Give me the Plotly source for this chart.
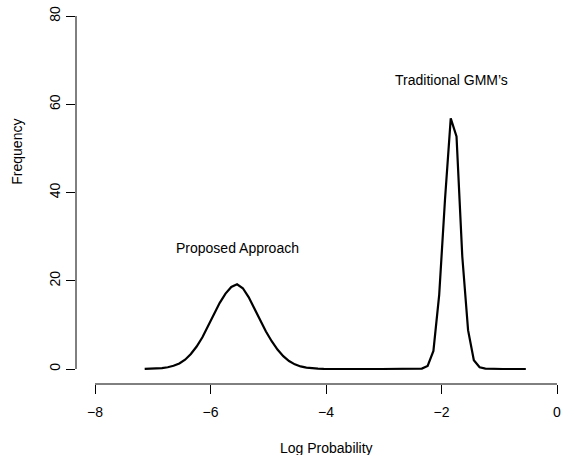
import plotly.graph_objects as go

# Data
log_prob = [-7.14, -7.04, -6.94, -6.84, -6.74, -6.64, -6.54, -6.44, -6.34, -6.24,
            -6.14, -6.04, -5.94, -5.84, -5.74, -5.64, -5.54, -5.44, -5.34, -5.24,
            -5.14, -5.04, -4.94, -4.84, -4.74, -4.64, -4.54, -4.44, -4.34, -4.24,
            -4.14, -4.04, -3.94, -3.84, -3.74, -3.64, -3.54, -3.44, -3.34, -3.24,
            -3.14, -3.04, -2.94, -2.84, -2.74, -2.64, -2.54, -2.44, -2.34, -2.24,
            -2.14, -2.04, -1.94, -1.84, -1.74, -1.64, -1.54, -1.44, -1.34, -1.24,
            -1.14, -1.04, -0.94, -0.84, -0.74, -0.64, -0.54]
frequency = [0.02, 0.05, 0.10, 0.21, 0.40, 0.72, 1.25, 2.1, 3.4, 5.1,
             7.2, 9.7, 12.4, 15.0, 17.1, 18.6, 19.2, 18.3, 16.3, 13.7,
             11.0, 8.5, 6.3, 4.4, 2.9, 1.8, 1.05, 0.58, 0.30, 0.15,
             0.07, 0.03, 0.01, 0, 0, 0, 0, 0, 0, 0,
             0, 0, 0, 0, 0, 0, 0, 0.02, 0.1, 0.7,
             4.1, 16.8, 38.3, 56.8, 52.7, 25.5, 8.8, 2.0, 0.4, 0.08,
             0.01, 0, 0, 0, 0, 0, 0]

x_ticks = [-8, -6, -4, -2, 0]
y_ticks = [0, 20, 40, 60, 80]

labels = ["Proposed Approach", "Traditional GMM\u2019s"]
label_x = [-5.53, -1.82]
label_y = [27.4, 65.5]

FONT = "Liberation Sans, Arial, Helvetica, sans-serif"
W, H = 562, 455
L, R, T, B = 76, 0, 0, 455 - 384
pw = W - L - R
ph = H - T - B
px_per_x = 57.75
px_per_y = 4.4125
x0 = -8 - 19 / px_per_x
y0 = -15 / px_per_y

def fx(px):  # page px -> paper x
    return (px - L) / pw

def fy(py):  # page px -> paper y
    return (ph - (py - T)) / ph

fig = go.Figure()
fig.add_trace(go.Scatter(x=log_prob, y=frequency, mode="lines",
                         line=dict(color="black", width=2.2),
                         hoverinfo="skip", showlegend=False))

for t, xx, yy in zip(labels, label_x, label_y):
    fig.add_annotation(x=xx, y=yy, text=t, showarrow=False,
                       font=dict(size=14, color="black", family=FONT),
                       xanchor="center", yanchor="middle")

# axis titles
fig.add_annotation(xref="paper", yref="paper", x=fx(326.7), y=fy(448),
                   text="Log Probability", showarrow=False,
                   font=dict(size=14, color="black", family=FONT),
                   xanchor="center", yanchor="middle")
fig.add_annotation(xref="paper", yref="paper", x=fx(16.7), y=fy(152),
                   text="Frequency", showarrow=False, textangle=-90,
                   font=dict(size=14, color="black", family=FONT),
                   xanchor="center", yanchor="middle")

# R-style axis lines spanning first to last tick
fig.add_shape(type="line", xref="x", yref="paper", x0=x_ticks[0], x1=x_ticks[-1],
              y0=0, y1=0, line=dict(color="black", width=1))
fig.add_shape(type="line", xref="paper", yref="y", x0=0, x1=0,
              y0=y_ticks[0], y1=y_ticks[-1], line=dict(color="black", width=1))

fig.update_xaxes(range=[x0, x0 + pw / px_per_x], tickvals=x_ticks,
                 ticktext=[("\u2212" + str(abs(v))) if v < 0 else str(v) for v in x_ticks],
                 ticks="outside", ticklen=9, tickcolor="black", tickwidth=1,
                 ticklabelstandoff=6, ticklabeloverflow="allow",
                 showgrid=False, zeroline=False, showline=False,
                 tickfont=dict(size=14, color="black", family=FONT))
fig.update_yaxes(range=[y0, y0 + ph / px_per_y], tickvals=y_ticks,
                 ticks="outside", ticklen=9, tickcolor="black", tickwidth=1,
                 tickangle=-90, ticklabeloverflow="allow",
                 showgrid=False, zeroline=False, showline=False,
                 tickfont=dict(size=14, color="black", family=FONT))

fig.update_layout(width=W, height=H, margin=dict(l=L, r=R, t=T, b=B),
                  plot_bgcolor="white", paper_bgcolor="white",
                  font=dict(family=FONT, color="black"))

fig.write_html("out.html", config={"displayModeBar": False},
               post_script="document.body.style.margin='0';document.body.style.overflow='hidden';")
